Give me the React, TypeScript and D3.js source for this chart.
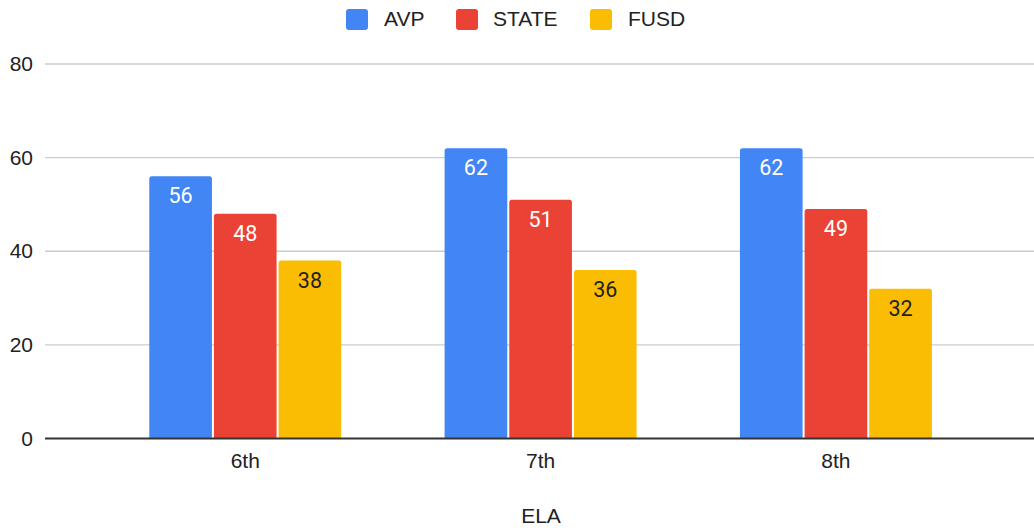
import React from "react";
import * as d3 from "d3";

const categories = ["6th", "7th", "8th"];
const seriesNames = ["AVP", "STATE", "FUSD"];
const avp = [56, 62, 62];
const state = [48, 51, 49];
const fusd = [38, 36, 32];
const yTicks = [0, 20, 40, 60, 80];
const xTitle = "ELA";

const seriesValues = [avp, state, fusd];
const colors = ["#4285F4", "#EA4335", "#FBBC04"];
const labelColors = ["#ffffff", "#ffffff", "#222222"];

const W = 1034;
const H = 528;
const FONT = "'Liberation Sans', Arial, sans-serif";
const LABEL_FONT = "Roboto, 'Noto Sans', Arial, sans-serif";

function topRoundedRect(x: number, y: number, w: number, h: number, r: number) {
  const rr = Math.min(r, w / 2, h);
  return `M${x},${y + h}V${y + rr}Q${x},${y} ${x + rr},${y}H${x + w - rr}Q${x + w},${y} ${x + w},${y + rr}V${y + h}Z`;
}

export default function App() {
  const y = d3.scaleLinear().domain([0, 80]).range([438.5, 64]);
  const x0 = d3
    .scaleBand<string>()
    .domain(categories)
    .range([97.6, 983.6])
    .paddingInner(0.35)
    .paddingOuter(0.175);
  const x1 = d3
    .scaleBand<string>()
    .domain(seriesNames)
    .range([0, x0.bandwidth()])
    .paddingInner(0.031)
    .paddingOuter(0);

  const legendX = [346, 456, 590];
  const legendTextX = [384, 493, 628];

  return (
    <svg
      width={W}
      height={H}
      style={{ position: "absolute", left: 0, top: 0, background: "#fff" }}
      fontFamily={FONT}
    >
      {/* legend */}
      {seriesNames.map((s, i) => (
        <g key={s}>
          <rect x={legendX[i]} y={9} width={22} height={21} rx={3} fill={colors[i]} />
          <text x={legendTextX[i]} y={26} fontSize={21} fill="#222">
            {s}
          </text>
        </g>
      ))}

      {/* gridlines */}
      {yTicks.map((t) => (
        <g key={t}>
          {t !== 0 && (
            <line x1={45} x2={W} y1={y(t)} y2={y(t)} stroke="#cccccc" strokeWidth={1.3} />
          )}
          <text x={33} y={y(t) + 7} fontSize={21} fill="#222" textAnchor="end">
            {t}
          </text>
        </g>
      ))}

      {/* bars */}
      {categories.map((c, ci) => (
        <g key={c} transform={`translate(${x0(c)},0)`}>
          {seriesNames.map((s, si) => {
            const v = seriesValues[si][ci];
            const bx = x1(s)!;
            const by = y(v);
            const bw = x1.bandwidth();
            return (
              <g key={s}>
                <path d={topRoundedRect(bx, by, bw, y(0) - by, 2.5)} fill={colors[si]} />
                <text
                  x={bx + bw / 2}
                  y={by + 27}
                  fontSize={21.5}
                  fontFamily={LABEL_FONT}
                  textAnchor="middle"
                  fill={labelColors[si]}
                >
                  {v}
                </text>
              </g>
            );
          })}
          <text x={x0.bandwidth() / 2} y={468} fontSize={21} fill="#222" textAnchor="middle">
            {c}
          </text>
        </g>
      ))}

      {/* baseline */}
      <line x1={45} x2={W} y1={y(0)} y2={y(0)} stroke="#333" strokeWidth={2} />

      {/* x title */}
      <text x={541} y={523} fontSize={21} fill="#222" textAnchor="middle">
        {xTitle}
      </text>
    </svg>
  );
}
